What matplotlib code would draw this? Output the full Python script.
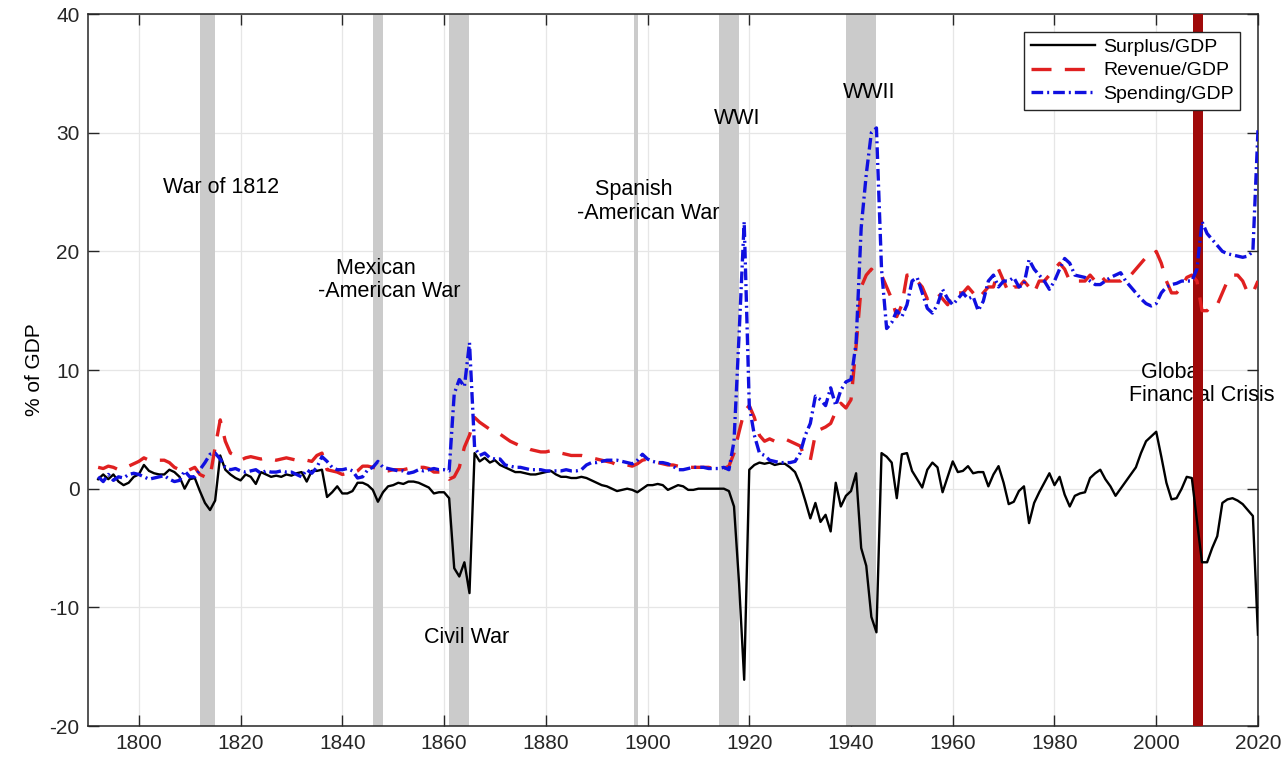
import matplotlib
matplotlib.use('Agg')
import matplotlib.pyplot as plt
import numpy as np

plt.rcParams['font.family'] = ['Liberation Sans', 'DejaVu Sans']
plt.rcParams['axes.unicode_minus'] = False

# annual data 1792-2020, % of GDP
years = np.arange(1792, 2021)

surplus = [
    0.8, 1.2, 0.8, 1.2, 0.6, 0.3, 0.5, 1.0,
    1.2, 2.0, 1.5, 1.3, 1.2, 1.2, 1.6, 1.4, 1.0, 0.0,
    0.8, 0.9, -0.2, -1.2, -1.8, -1.0, 2.8, 1.6, 1.2, 0.9,
    0.7, 1.2, 1.0, 0.4, 1.4, 1.2, 1.0, 1.1, 1.0, 1.2,
    1.1, 1.3, 1.4, 0.6, 1.5, 1.5, 1.6, -0.7, -0.3, 0.2,
    -0.4, -0.4, -0.2, 0.5, 0.5, 0.3, -0.1, -1.1, -0.3, 0.2,
    0.3, 0.5, 0.4, 0.6, 0.6, 0.5, 0.3, 0.1, -0.4, -0.3,
    -0.3, -0.8, -6.7, -7.4, -6.2, -8.8, 3.0, 2.3, 2.6, 2.2,
    2.4, 2.0, 1.8, 1.6, 1.4, 1.4, 1.3, 1.2, 1.2, 1.3,
    1.4, 1.5, 1.2, 1.0, 1.0, 0.9, 0.9, 1.0, 0.9, 0.7,
    0.5, 0.3, 0.2, 0.0, -0.2, -0.1, 0.0, -0.1, -0.3, 0.0,
    0.3, 0.3, 0.4, 0.3, -0.1, 0.1, 0.3, 0.2, -0.1, -0.1,
    0.0, 0.0, 0.0, 0.0, 0.0, 0.0, -0.2, -1.5, -8.0, -16.1,
    1.6, 2.0, 2.2, 2.1, 2.2, 2.0, 2.1, 2.1, 1.8, 1.4,
    0.4, -1.0, -2.5, -1.2, -2.8, -2.2, -3.6, 0.5, -1.5, -0.6,
    -0.2, 1.3, -5.0, -6.5, -10.8, -12.1, 3.0, 2.7, 2.2, -0.8,
    2.9, 3.0, 1.5, 0.8, 0.1, 1.6, 2.2, 1.8, -0.3, 1.0,
    2.3, 1.4, 1.5, 1.9, 1.3, 1.4, 1.4, 0.2, 1.2, 1.9,
    0.5, -1.3, -1.1, -0.2, 0.2, -2.9, -1.2, -0.3, 0.5, 1.3,
    0.3, 1.0, -0.5, -1.5, -0.6, -0.4, -0.3, 0.9, 1.3, 1.6,
    0.8, 0.2, -0.6, 0.0, 0.6, 1.2, 1.8, 3.0, 4.0, 4.4,
    4.8, 2.7, 0.5, -0.9, -0.8, 0.0, 1.0, 0.9, -2.7, -6.2,
    -6.2, -5.0, -4.0, -1.2, -0.9, -0.8, -1.0, -1.3, -1.8, -2.3,
    -12.3,
]

revenue = [
    1.8, 1.7, 1.9, 1.8, 1.6, 1.8, 1.9, 2.1,
    2.3, 2.6, 2.4, 2.3, 2.4, 2.4, 2.2, 1.8, 1.6, 1.4,
    1.6, 1.8, 1.2, 1.0, 1.0, 3.5, 5.8, 4.0, 3.0, 2.8,
    2.4, 2.6, 2.7, 2.6, 2.5, 2.6, 2.5, 2.4, 2.5, 2.6,
    2.5, 2.4, 2.3, 2.4, 2.3, 2.8, 3.0, 1.6, 1.5, 1.4,
    1.2, 1.3, 1.3, 1.5, 1.9, 1.9, 1.8, 1.7, 1.5, 1.5,
    1.6, 1.6, 1.6, 1.7, 1.8, 1.8, 1.8, 1.7, 1.4, 1.4,
    1.4, 0.8, 1.0, 1.8, 3.5, 4.5, 6.0, 5.6, 5.3, 5.0,
    4.8, 4.6, 4.3, 4.0, 3.8, 3.6, 3.5, 3.3, 3.2, 3.1,
    3.1, 3.2, 3.2, 3.0, 2.9, 2.8, 2.8, 2.8, 2.7, 2.6,
    2.5, 2.4, 2.3, 2.2, 2.0, 2.0, 2.0, 1.9, 2.1, 2.4,
    2.5, 2.3, 2.2, 2.1, 2.0, 2.0, 1.9, 1.8, 1.8, 1.8,
    1.8, 1.8, 1.8, 1.7, 1.8, 1.7, 1.9, 3.0, 4.8, 6.5,
    7.0, 6.0, 4.5, 4.0, 4.2, 4.0, 4.1, 4.2, 4.0, 3.8,
    3.6, 2.6, 2.4, 4.6, 5.0, 5.2, 5.5, 6.5, 7.2, 6.8,
    7.5, 12.0, 17.0, 18.0, 18.5, 18.0, 18.0, 17.0, 16.0, 14.5,
    15.5, 18.0, 18.0, 17.5, 17.0, 16.0, 16.5, 16.5, 16.0, 15.5,
    16.5, 16.5, 16.5, 17.0, 16.5, 16.0, 16.5, 17.0, 17.0, 18.5,
    17.5, 16.5, 17.0, 17.0, 17.5, 17.0, 16.5, 17.5, 17.5, 18.0,
    18.5, 19.0, 18.5, 17.5, 17.5, 17.5, 17.5, 18.0, 17.5, 18.0,
    17.5, 17.5, 17.5, 17.5, 18.0, 18.0, 18.5, 19.0, 19.5, 19.5,
    20.0, 19.0, 17.5, 16.5, 16.5, 17.0, 17.8, 18.0, 17.5, 15.0,
    15.0, 15.5, 15.5, 16.5, 17.5, 18.0, 18.0, 17.5, 16.5, 16.5,
    17.5,
]

spending = [
    1.0, 0.6, 1.2, 0.7, 1.0, 0.9, 1.2, 1.3,
    1.2, 1.0, 0.8, 0.9, 1.0, 1.1, 0.8, 0.6, 0.7, 1.5,
    1.0, 1.0, 1.6, 2.2, 2.9, 3.0, 2.5, 1.8, 1.6, 1.7,
    1.5, 1.4, 1.5, 1.6, 1.3, 1.5, 1.4, 1.4, 1.5, 1.4,
    1.4, 1.2, 1.0, 1.6, 1.3, 1.8, 2.7, 2.3, 1.8, 1.6,
    1.6, 1.7, 1.5, 0.9, 1.0, 1.6, 1.8, 2.3, 1.8, 1.7,
    1.6, 1.5, 1.5, 1.3, 1.4, 1.6, 1.5, 1.6, 1.7, 1.6,
    1.6, 1.5, 8.0, 9.2, 8.6, 12.3, 3.5, 2.8, 3.0, 2.6,
    2.5, 2.5, 2.0, 1.9, 1.8, 1.8, 1.7, 1.6, 1.6, 1.6,
    1.5, 1.5, 1.5, 1.5, 1.6, 1.5, 1.5, 1.6, 2.0, 2.2,
    2.2, 2.3, 2.4, 2.4, 2.4, 2.3, 2.2, 2.1, 2.4, 2.9,
    2.5, 2.3, 2.2, 2.2, 2.1, 1.9, 1.6, 1.6, 1.7, 1.8,
    1.8, 1.8, 1.7, 1.7, 1.7, 1.8, 1.6, 4.0, 13.0, 22.5,
    7.0, 4.5, 3.0, 2.8, 2.4, 2.3, 2.2, 2.2, 2.2, 2.3,
    3.0, 4.5, 5.5, 7.8, 7.5, 7.0, 8.5, 7.0, 8.3, 9.0,
    9.2, 12.3, 22.0, 26.5, 30.0, 30.4, 18.5, 13.5, 14.0, 15.0,
    14.5, 15.5, 17.5, 17.8, 16.5, 15.2, 14.8, 15.5, 16.8, 16.0,
    15.5, 16.0, 16.5, 16.0, 16.2, 15.0, 15.8, 17.5, 18.0, 17.0,
    17.5, 17.5, 17.8, 17.0, 17.2, 19.3, 18.5, 18.0, 17.5, 16.8,
    17.5, 18.5, 19.4, 19.0, 18.0, 17.9, 17.8, 17.5, 17.2, 17.2,
    17.5, 17.8, 18.0, 18.2, 17.5, 17.0, 16.5, 16.0, 15.6, 15.4,
    15.6, 16.5, 17.0, 17.2, 17.3, 17.5, 17.5, 17.5, 18.5, 22.5,
    21.5, 21.0, 20.5, 20.0, 19.8, 19.7, 19.6, 19.5, 19.6, 20.0,
    30.2,
]

# war periods (start, end)
wars = [(1812, 1815), (1846, 1848), (1861, 1865), (1897.3, 1898.1),
        (1914, 1918), (1939, 1945)]
crisis = (2007.2, 2009.2)

fig = plt.figure(figsize=(12.86, 7.62), dpi=100)
ax = fig.add_axes([0.0684, 0.0472, 0.9098, 0.9344])

for a, b in wars:
    ax.axvspan(a, b, color='#cbcbcb', lw=0, zorder=1)
ax.axvspan(crisis[0], crisis[1], color='#a00a0a', lw=0, zorder=4)

ax.plot(years, surplus, color='black', lw=1.7, label='Surplus/GDP', zorder=5)
ax.plot(years, revenue, color='#e02020', lw=2.4, dashes=(6, 4),
        label='Revenue/GDP', zorder=5)
ax.plot(years, spending, color='#1010e0', lw=2.4, dashes=(3.5, 1.2, 0.6, 1.2),
        label='Spending/GDP', zorder=5)

fs = 15.5
ax.text(1816.2, 25.4, 'War of 1812', ha='center', va='center', fontsize=fs, zorder=3)
ax.text(1835.3, 17.6, '   Mexican\n-American War', ha='left', va='center',
        fontsize=fs, linespacing=1.15, zorder=3)
ax.text(1864.4, -12.5, 'Civil War', ha='center', va='center', fontsize=fs, zorder=3)
ax.text(1886.2, 24.2, '   Spanish\n-American War', ha='left', va='center',
        fontsize=fs, linespacing=1.2, zorder=3)
ax.text(1917.7, 31.2, 'WWI', ha='center', va='center', fontsize=fs, zorder=3)
ax.text(1943.5, 33.4, 'WWII', ha='center', va='center', fontsize=fs, zorder=3)
ax.text(1994.6, 8.8, '  Global\nFinancial Crisis', ha='left', va='center',
        fontsize=fs, linespacing=1.15, zorder=3)

ax.set_xlim(1790, 2020)
ax.set_ylim(-20, 40)
ax.set_xticks(np.arange(1800, 2021, 20))
ax.set_yticks(np.arange(-20, 41, 10))
ax.grid(True, color='#e6e6e6', lw=0.9)
ax.set_axisbelow(True)
ax.tick_params(direction='in', length=8, width=1, labelsize=15,
               top=True, right=True, colors='#262626', pad=6)
for s in ax.spines.values():
    s.set_linewidth(1.1)
    s.set_color('#262626')
ax.set_ylabel('% of GDP', fontsize=15, labelpad=4)

leg = ax.legend(loc='upper right', fontsize=14, handlelength=3.3,
                handletextpad=0.4, labelspacing=0.3, borderpad=0.35,
                borderaxespad=0.9, fancybox=False, framealpha=1,
                edgecolor='#262626')
leg.get_frame().set_linewidth(1)
leg.set_zorder(6)

fig.savefig('out.png', dpi=100)
